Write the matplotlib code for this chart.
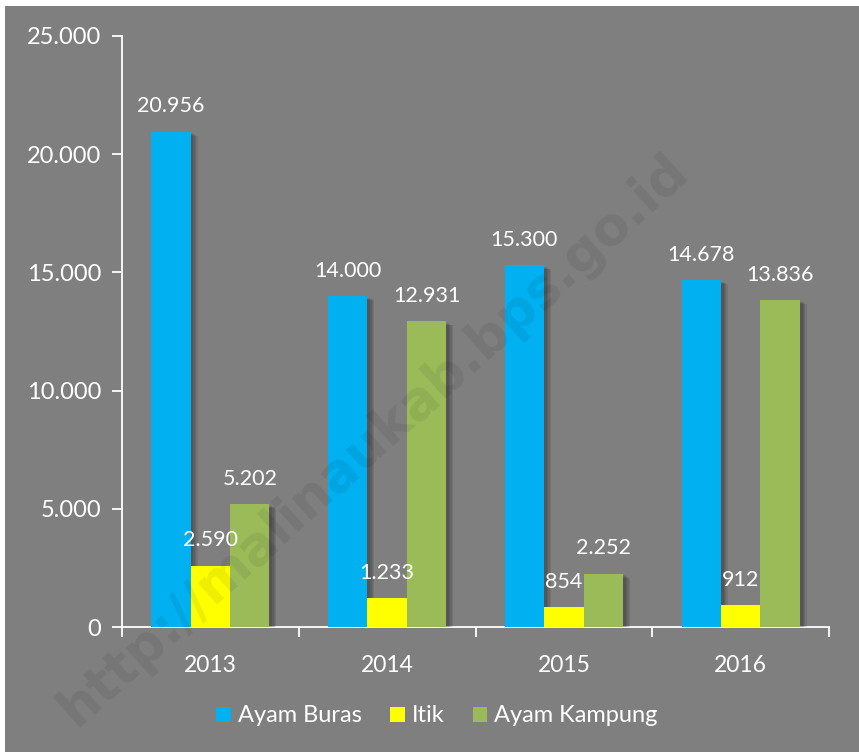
import matplotlib
matplotlib.use("Agg")
import numpy as np
from matplotlib import pyplot as plt
from matplotlib import patheffects as pe
from matplotlib.patches import Rectangle
from matplotlib.ticker import FuncFormatter, FixedLocator

years = ["2013", "2014", "2015", "2016"]
ayam_buras = [20956, 14000, 15300, 14678]
itik = [2590, 1233, 854, 912]
ayam_kampung = [5202, 12931, 2252, 13836]

series = [("Ayam Buras", ayam_buras, "#00b0f0"),
          ("Itik", itik, "#ffff00"),
          ("Ayam Kampung", ayam_kampung, "#9bbb59")]

plt.rcParams['font.family'] = ['Lato', 'DejaVu Sans']
grey = "#7f7f7f"

fig = plt.figure(figsize=(8.59, 7.52), dpi=100, facecolor="white")
fig.patches.append(Rectangle((5 / 859, 0), 1, 1 - 6 / 752, transform=fig.transFigure,
                             facecolor=grey, edgecolor="none", zorder=-10))

ax = fig.add_axes([122 / 859, 1 - 627 / 752, (829 - 122) / 859, (627 - 36) / 752])
ax.set_facecolor("none")

def fmt(v):
    return f"{int(v):,}".replace(",", ".")

# soft shadow: a few faint offset copies
shadow = [pe.SimplePatchShadow(offset=(d, -d * 0.6), shadow_rgbFace="black", alpha=0.09)
          for d in (5, 4, 3, 2)] + [pe.Normal()]

x = np.arange(len(years))
w = 0.223
for i, (name, vals, col) in enumerate(series):
    bars = ax.bar(x + (i - 1) * w, vals, w, color=col, label=name, zorder=3)
    for b, v in zip(bars, vals):
        b.set_path_effects(shadow)
        ax.annotate(fmt(v), (b.get_x() + b.get_width() / 2, v), xytext=(0, 11),
                    textcoords="offset points", ha="center", va="bottom",
                    color="white", fontsize=15.5, zorder=4)

ax.set_xlim(-0.5, len(years) - 0.5)
ax.set_ylim(0, 25000)
ax.set_yticks(range(0, 25001, 5000))
ax.yaxis.set_major_formatter(FuncFormatter(lambda v, p: fmt(v)))
ax.set_xticks(x)
ax.set_xticklabels(years)
ax.xaxis.set_minor_locator(FixedLocator(np.arange(-0.5, len(years), 1.0)))
ax.tick_params(axis="x", which="major", length=0, pad=20, labelsize=16.5, colors="white")
ax.tick_params(axis="x", which="minor", length=7, width=1.3, color="white", direction="out")
ax.tick_params(axis="y", length=7, width=1.3, color="white", labelcolor="white",
               labelsize=17, pad=8)
for s in ["top", "right"]:
    ax.spines[s].set_visible(False)
for s in ["left", "bottom"]:
    ax.spines[s].set_color("white")
    ax.spines[s].set_linewidth(1.3)

leg = fig.legend(loc="center", bbox_to_anchor=(437 / 859, 1 - 716 / 752), ncol=3,
                 frameon=False, fontsize=17, labelcolor="white", handlelength=0.62,
                 handleheight=0.62, handletextpad=0.3, columnspacing=1.2)
for h in leg.legend_handles:
    h.set_path_effects([])

fig.text(0.435, 0.415, "http://malinaukab.bps.go.id", rotation=42, ha="center", va="center",
         fontsize=38, fontweight="bold", color="black", alpha=0.07,
         family="DejaVu Sans", zorder=10)

fig.savefig("out.png", dpi=100, facecolor=fig.get_facecolor())
